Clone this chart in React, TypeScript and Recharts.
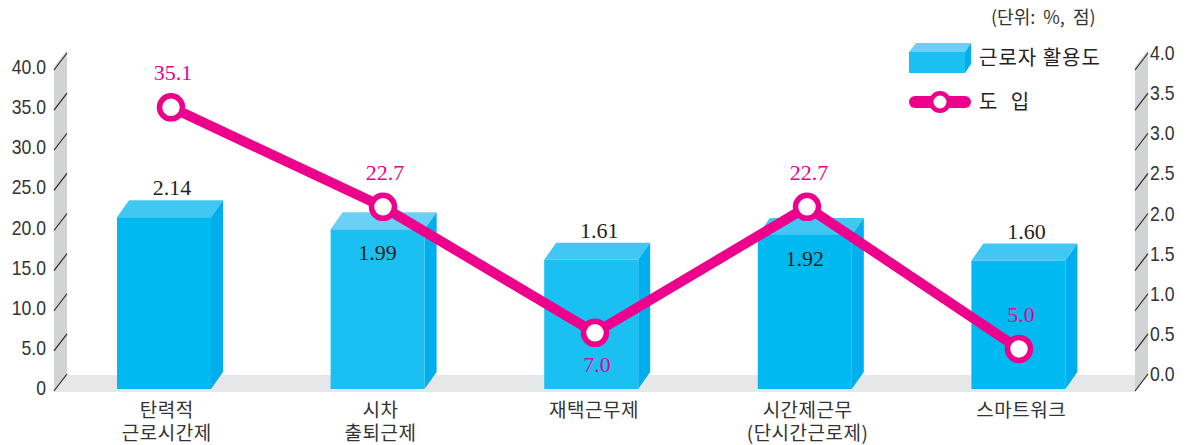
import React from 'react';
import { ComposedChart, Bar, Line, XAxis, YAxis, ReferenceArea, LabelList } from 'recharts';

const categories = ['탄력적\n근로시간제', '시차\n출퇴근제', '재택근무제', '시간제근무\n(단시간근로제)', '스마트워크'];
const usageScores = [2.14, 1.99, 1.61, 1.92, 1.6];
const adoptionRates = [35.1, 22.7, 7.0, 22.7, 5.0];
const leftTicks = [0, 5, 10, 15, 20, 25, 30, 35, 40];
const rightTicks = [0, 0.5, 1, 1.5, 2, 2.5, 3, 3.5, 4];

const data = categories.map((name, i) => ({ name, usage: usageScores[i], adoption: adoptionRates[i] }));

// looks
const MAGENTA = '#EC008C';
const barFront = ['#00B9F0', '#19C0F1', '#19C0F1', '#00B9F0', '#00B9F0'];
const barTop = ['#41C7F3', '#6CCFF6', '#41C7F3', '#41C7F3', '#41C7F3'];
const barSide = '#00ADED';
const usageInside = [false, true, false, true, false];
const adoptionBelow = [false, false, true, false, false];
const DX = 12;
const DY = 17;
const KR = '"Noto Sans CJK KR", "Noto Sans", sans-serif';
const SERIF = '"Liberation Serif", "DejaVu Serif", serif';
const SANS = '"Liberation Sans", Arial, sans-serif';

const Bar3D = (props: any) => {
  const { x, y, width: w, height: h, index } = props;
  return (
    <g>
      <polygon points={`${x},${y} ${x + DX},${y - DY} ${x + w + DX},${y - DY} ${x + w},${y}`} fill={barTop[index]} />
      <polygon points={`${x + w},${y} ${x + w + DX},${y - DY} ${x + w + DX},${y + h - DY} ${x + w},${y + h}`} fill={barSide} />
      <rect x={x} y={y} width={w} height={h} fill={barFront[index]} />
    </g>
  );
};

// walls + floor behind the bars, with the slashed tick marks
const Stage = (props: any) => {
  const { x, y, width, height } = props;
  const x0 = x;
  const x1 = x + width;
  const yT = y;
  const yB = y + height;
  const wall = '#D1D3D4';
  const floor = '#E6E7E8';
  return (
    <g>
      <polygon points={`${x0 - 3},${yT - 1} ${x0 + 10},${yT - 18} ${x0 + 10},${yB - 14} ${x0 - 3},${yB + 3}`} fill={wall} />
      <polygon points={`${x0 - 3},${yB + 3} ${x0 + 10},${yB - 14} ${x1 + 23},${yB - 14} ${x1 + 10},${yB + 3}`} fill={floor} />
      <polygon points={`${x1 + 10},${yT - 1} ${x1 + 23},${yT - 18} ${x1 + 23},${yB - 14} ${x1 + 10},${yB + 3}`} fill={wall} />
      {leftTicks.map((v) => {
        const ty = yB - (height * v) / 40;
        return (
          <g key={v} stroke="#231F20" strokeWidth={1.1}>
            <line x1={x0 - 3} y1={ty + 2} x2={x0 + 10} y2={ty - 15} />
            <line x1={x1 + 10} y1={ty + 2} x2={x1 + 23} y2={ty - 15} />
          </g>
        );
      })}
    </g>
  );
};

const LeftTick = ({ x, y, payload }: any) => (
  <g transform={`translate(${x - 11},${y + 6}) scale(0.88,1)`}>
    <text textAnchor="end" fontSize={20} fontFamily={SANS} fill="#333">
      {payload.value === 0 ? '0' : Number(payload.value).toFixed(1)}
    </text>
  </g>
);

const RightTick = ({ x, y, payload }: any) => (
  <g transform={`translate(${x + 25},${y - 8}) scale(0.88,1)`}>
    <text textAnchor="start" fontSize={20} fontFamily={SANS} fill="#333">
      {Number(payload.value).toFixed(1)}
    </text>
  </g>
);

const CategoryTick = ({ x, y, payload }: any) => {
  const lines = String(payload.value).split('\n');
  return (
    <text textAnchor="middle" fontSize={19} letterSpacing={0.5} fontFamily={KR} fill="#333">
      {lines.map((l, i) => (
        <tspan key={i} x={x + 3} y={y + 28 + i * 23}>{l}</tspan>
      ))}
    </text>
  );
};

const UsageLabel = (props: any) => {
  const { x, y, width, value, index } = props;
  const inside = usageInside[index];
  return (
    <text
      x={x + width / 2 + (inside ? 0 : 8)}
      y={inside ? y + 31 : y - 22}
      textAnchor="middle"
      fontSize={22}
      fontFamily={SERIF}
      fill="#231F20"
    >
      {Number(value).toFixed(2)}
    </text>
  );
};

const AdoptionLabel = (props: any) => {
  const { x, y, value, index } = props;
  const below = adoptionBelow[index];
  return (
    <text x={x + 2} y={below ? y + 39 : y - 27} textAnchor="middle" fontSize={22} fontFamily={SERIF} fill={MAGENTA}>
      {Number(value).toFixed(1)}
    </text>
  );
};

const Marker = (p: any) => (
  <circle key={`m-${p.index}`} cx={p.cx} cy={p.cy} r={11.5} fill="#fff" stroke={MAGENTA} strokeWidth={5.5} />
);

export default function App() {
  return (
    <div style={{ position: 'relative', width: 1187, height: 445, background: '#fff' }}>
      <style>{'body{margin:0}'}</style>
      <ComposedChart width={1187} height={445} data={data} margin={{ top: 68, right: 0, bottom: 0, left: 0 }}>
        <XAxis dataKey="name" height={56} axisLine={false} tickLine={false} tickSize={0} tickMargin={0} tick={<CategoryTick />} interval={0} />
        <XAxis xAxisId="line" dataKey="name" hide scale="band" padding={{ left: 8, right: 0 }} />
        <YAxis yAxisId="left" width={57} domain={[0, 40]} ticks={leftTicks} axisLine={false} tickLine={false} tickSize={0} tickMargin={0} tick={<LeftTick />} interval={0} />
        <YAxis yAxisId="right" orientation="right" width={62} domain={[0, 4]} ticks={rightTicks} axisLine={false} tickLine={false} tickSize={0} tickMargin={0} tick={<RightTick />} interval={0} />
        <ReferenceArea yAxisId="left" y1={0} y2={40} ifOverflow="visible" shape={(p: any) => <Stage {...p} />} />
        <Bar yAxisId="right" dataKey="usage" barSize={94} shape={(p: any) => <Bar3D {...p} />} isAnimationActive={false}>
          <LabelList dataKey="usage" content={(p: any) => <UsageLabel {...p} />} />
        </Bar>
        <Line
          xAxisId="line"
          yAxisId="left"
          dataKey="adoption"
          stroke={MAGENTA}
          strokeWidth={10}
          strokeLinejoin="round"
          dot={(p: any) => <Marker {...p} />}
          activeDot={false}
          isAnimationActive={false}
        >
          <LabelList dataKey="adoption" content={(p: any) => <AdoptionLabel {...p} />} />
        </Line>
      </ComposedChart>

      <div style={{ position: 'absolute', left: 991, top: 4, fontFamily: KR, fontSize: 18, lineHeight: '24px', color: '#333', whiteSpace: 'pre' }}>
        {'(단위:  %,  점)'}
      </div>

      <svg style={{ position: 'absolute', left: 900, top: 36 }} width={80} height={84}>
        <polygon points="9,16 16,7 71,7 65,16" fill="#6CCFF6" />
        <polygon points="65,16 71,7 71,28 65,37" fill="#00ADED" />
        <rect x={9} y={16} width={56} height={21} fill="#19C0F1" />
        <line x1={15} y1={66} x2={65} y2={66} stroke={MAGENTA} strokeWidth={12} strokeLinecap="round" />
        <circle cx={40} cy={66} r={8.75} fill="#fff" stroke={MAGENTA} strokeWidth={4.5} />
      </svg>
      <div style={{ position: 'absolute', left: 979, top: 44, fontFamily: KR, fontSize: 20, letterSpacing: 1, lineHeight: '26px', color: '#231F20' }}>
        근로자 활용도
      </div>
      <div style={{ position: 'absolute', left: 979, top: 88, fontFamily: KR, fontSize: 20, lineHeight: '26px', color: '#231F20', whiteSpace: 'pre' }}>
        {'도   입'}
      </div>
    </div>
  );
}
